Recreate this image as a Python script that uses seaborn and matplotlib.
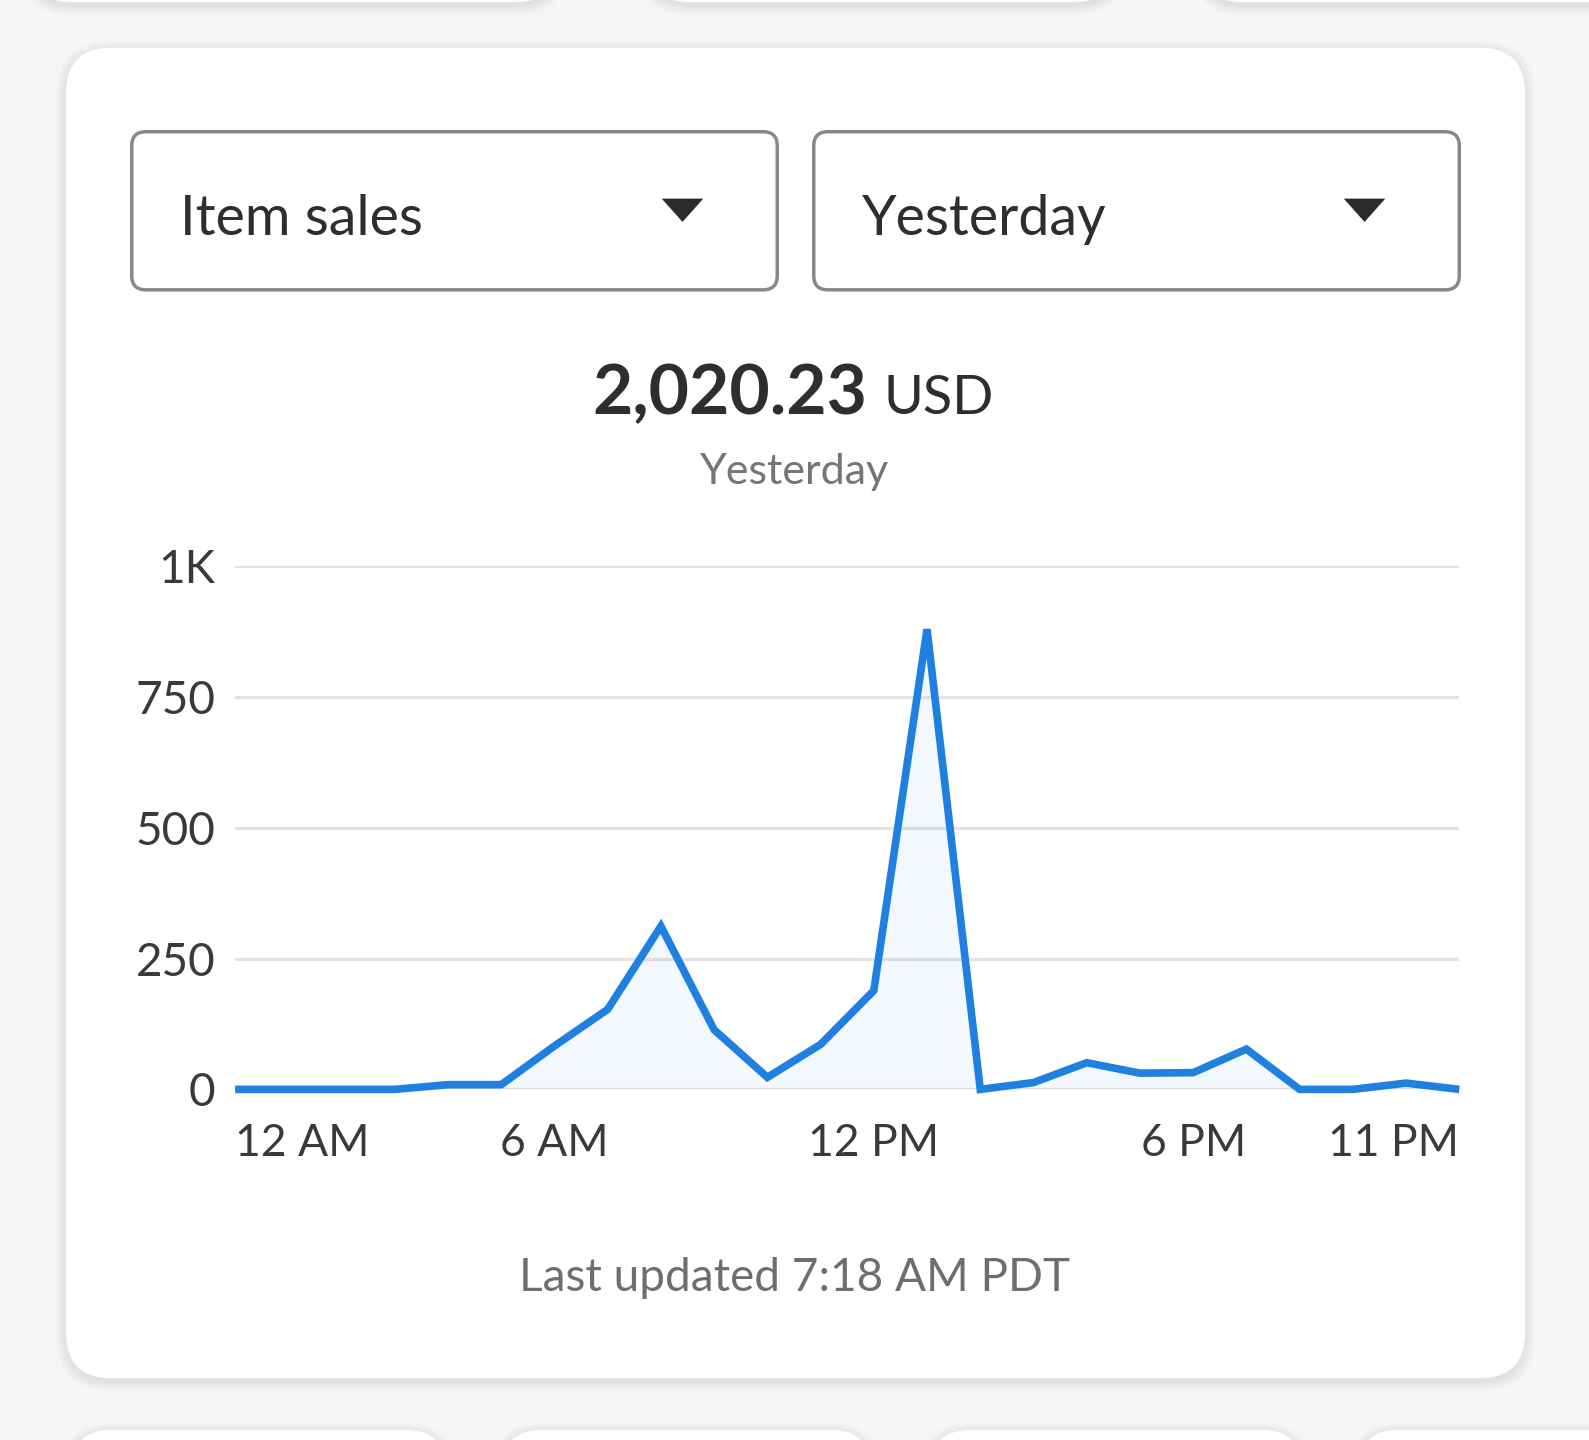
import numpy as np
import pandas as pd
import matplotlib.pyplot as plt
import seaborn as sns
from matplotlib.patches import FancyBboxPatch, Polygon

# hourly item sales for yesterday (USD)
hours = list(range(24))
sales = [0, 0, 0, 0, 9, 9, 83, 153, 312, 114, 23, 86, 189, 880,
         0, 13, 51, 31, 32, 77, 0, 0, 12, 0]
x_tick_pos = [0, 6, 12, 18, 23]
x_tick_labels = ["12 AM", "6 AM", "12 PM", "6 PM", "11 PM"]
y_ticks = [0, 250, 500, 750, 1000]
y_tick_labels = ["0", "250", "500", "750", "1K"]
dropdowns = ["Item sales", "Yesterday"]
total_value = "2,020.23"
currency = "USD"
period = "Yesterday"
footer = "Last updated 7:18 AM PDT"

# layout measured in reference units
W, H = 1568, 1421
BLUE = "#1f80e0"
DARK = "#2d2e32"


def fx(x):
    return x / W


def fy(y):
    return 1 - y / H


sns.set_theme(style="white")
plt.rcParams['font.family'] = ['Lato', 'DejaVu Sans']

fig = plt.figure(figsize=(15.89, 14.40), dpi=100)
fig.patch.set_facecolor("#f6f6f6")

bg = fig.add_axes([0, 0, 1, 1], zorder=0)
bg.set_xlim(0, W)
bg.set_ylim(H, 0)
bg.axis("off")


def card(x0, y0, x1, y1, r):
    # soft shadow then white card
    for i in range(7):
        d = 1 + i * 1.5
        bg.add_patch(FancyBboxPatch((x0 - d, y0 - d + 3), x1 - x0 + 2 * d, y1 - y0 + 2 * d,
                                    boxstyle=f"round,pad=0,rounding_size={r + d}",
                                    fc="black", ec="none", alpha=0.010))
    bg.add_patch(FancyBboxPatch((x0, y0), x1 - x0, y1 - y0,
                                boxstyle=f"round,pad=0,rounding_size={r}",
                                fc="white", ec="none"))


# neighbouring cards peeking in at the top and bottom
for a, b in [(30, 550), (640, 1100), (1185, 1620)]:
    card(a, -200, b, 2, 40)
for a, b in [(70, 440), (495, 860), (918, 1285), (1340, 1700)]:
    card(a, 1411, b, 1600, 40)

card(65, 47, 1505, 1360, 45)

# dropdown boxes
for i, label in enumerate(dropdowns):
    x0 = 130 + i * 673
    bg.add_patch(FancyBboxPatch((x0, 130), 637, 156,
                                boxstyle="round,pad=0,rounding_size=14",
                                fc="white", ec="#88888c", lw=2.5))
    bg.text(x0 + 48, 232, label, fontsize=40, color=DARK, ha="left", va="baseline")
    tx = x0 + 523
    bg.add_patch(Polygon([(tx, 196), (tx + 41, 196), (tx + 20.5, 219)],
                         closed=True, fc="#2b2b2e", ec="none"))

# headline figure
bg.text(856, 409, total_value, fontsize=50, fontweight="bold", color=DARK,
        ha="right", va="baseline")
bg.text(872, 409, currency, fontsize=39, color=DARK, ha="left", va="baseline")
bg.text(784, 478, period, fontsize=31, color="#767676", ha="center", va="baseline")
bg.text(784, 1274, footer, fontsize=33, color="#6e6e6e", ha="center", va="baseline")

# chart
ax = fig.add_axes([fx(232), fy(1075), fx(1440) - fx(232), fy(559) - fy(1075)], zorder=2)
ax.patch.set_alpha(0)
df = pd.DataFrame({"hour": hours, "sales": sales})
sns.lineplot(data=df, x="hour", y="sales", ax=ax, color=BLUE, linewidth=5.5)
for ln in ax.lines:
    ln.set_solid_joinstyle("miter")
    ln.set_solid_capstyle("butt")
    ln.set_clip_on(False)
ax.fill_between(df["hour"], df["sales"], 0, color=BLUE, alpha=0.055, lw=0)

ax.set_xlim(0, 23)
ax.set_ylim(0, 1000)
ax.set_yticks(y_ticks)
ax.set_yticklabels(y_tick_labels)
ax.set_xticks(x_tick_pos)
ax.set_xticklabels(x_tick_labels)
ax.set_xlabel("")
ax.set_ylabel("")
ax.yaxis.grid(True, color="#e4e4e4", lw=2.3)
ax.xaxis.grid(False)
ax.set_axisbelow(True)
sns.despine(ax=ax, left=True, bottom=True)
ax.tick_params(axis="y", length=0, pad=14, labelsize=33, labelcolor="#3a3a3a")
ax.tick_params(axis="x", length=0, pad=24, labelsize=32, labelcolor="#3a3a3a")
xl = ax.get_xticklabels()
xl[0].set_ha("left")
xl[-1].set_ha("right")

fig.savefig("out.png", dpi=100, facecolor=fig.get_facecolor())
